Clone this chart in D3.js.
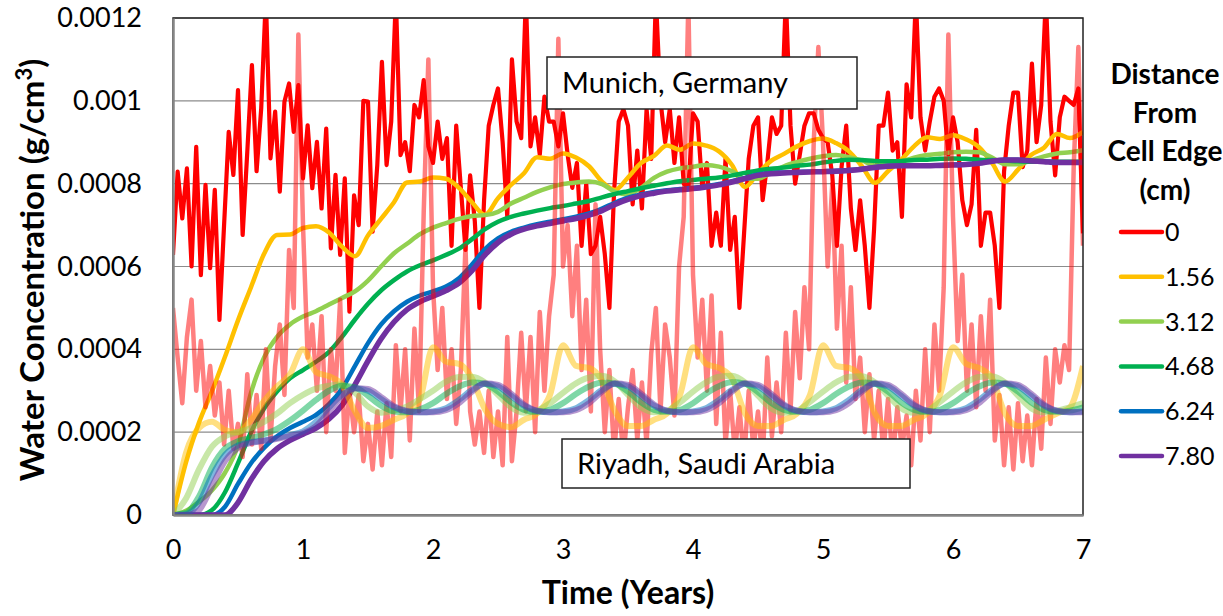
<!DOCTYPE html>
<html>
<head>
<meta charset="utf-8">
<script src="https://cdn.jsdelivr.net/npm/d3@7"></script>
<style>
  body { margin: 0; background: #fff; }
  svg { display: block; font-family: Lato, "Liberation Sans", sans-serif; }
</style>
</head>
<body>
<div id="chart"></div>
<script>
// water concentration values are in units of 1e-4 g/cm3
const UNIT = 1e-4;

// daily-weather driven cell edge (0 cm), sampled 28 times per year
const munichEdge = [
  6.28, 8.29, 7.16, 8.37, 6.0, 8.89, 5.79, 7.97, 5.96, 7.85, 4.71, 7.0, 9.25, 8.21, 10.26, 6.76, 8.77, 10.86, 8.3, 9.82, 12.5, 8.61, 9.74, 7.81, 9.98, 10.42, 9.25, 10.38,
  8.13, 9.41, 7.89, 9.01, 7.4, 9.33, 6.44, 8.21, 6.28, 8.13, 4.91, 7.72, 7.0, 10.0, 9.98, 6.84, 8.45, 10.94, 8.45, 9.5, 12.5, 8.69, 9.0, 8.3, 9.9, 9.6, 10.5, 8.9,
  8.5, 9.5, 8.6, 9.1, 6.5, 9.4, 7.9, 6.4, 8.2, 7.1, 5.0, 7.6, 9.4, 9.9, 10.3, 9.0, 7.2, 11.0, 9.5, 9.1, 12.5, 8.9, 9.6, 8.7, 10.1, 9.5, 9.5, 8.9,
  9.7, 8.7, 7.9, 8.5, 6.5, 8.0, 6.3, 6.5, 7.2, 6.3, 5.0, 7.8, 9.5, 9.8, 9.4, 7.5, 8.8, 7.4, 9.8, 8.6, 12.5, 10.0, 9.0, 9.8, 8.5, 9.6, 8.0, 7.9,
  9.7, 9.5, 7.9, 8.5, 6.5, 7.3, 6.5, 8.6, 6.4, 7.2, 5.0, 6.8, 8.6, 9.4, 9.6, 7.6, 8.5, 9.6, 9.2, 9.4, 12.5, 9.4, 8.0, 8.7, 9.4, 9.7, 9.7, 9.3,
  9.1, 9.0, 8.2, 6.5, 8.4, 9.4, 7.4, 6.4, 7.6, 6.5, 5.0, 6.9, 9.4, 9.4, 10.2, 8.8, 9.0, 7.2, 10.4, 9.6, 12.5, 9.6, 8.8, 9.5, 10.1, 10.3, 10.0, 8.7,
  9.6, 9.0, 7.6, 7.0, 7.5, 9.3, 6.5, 7.3, 7.3, 6.5, 5.0, 8.3, 9.4, 10.2, 10.2, 8.4, 8.8, 10.9, 9.0, 9.9, 12.5, 9.5, 8.2, 9.6, 10.1, 10.0, 9.9, 10.3,
  6.8
];
const riyadhEdge = [
  5.0, 3.8, 2.7, 4.3, 5.2, 3.0, 4.2, 2.6, 3.6, 2.4, 3.2, 1.7, 3.0, 1.6, 2.2, 1.4, 3.4, 1.7, 2.9, 1.6, 4.0, 1.8, 3.6, 4.6, 2.9, 6.4, 5.0, 11.6,
  7.0, 3.8, 4.6, 3.0, 4.8, 2.0, 4.0, 3.0, 5.2, 1.5, 3.0, 2.0, 2.9, 1.3, 2.2, 1.1, 2.5, 1.2, 2.7, 1.4, 4.1, 2.5, 4.0, 1.8, 4.5, 2.5, 7.3, 11.0,
  5.5, 3.5, 5.0, 2.8, 4.0, 2.2, 3.5, 6.5, 2.5, 1.7, 2.5, 1.5, 3.0, 1.4, 2.5, 1.2, 4.3, 1.3, 2.5, 4.4, 2.5, 4.3, 2.0, 4.9, 3.0, 4.8, 5.8, 11.5,
  6.0, 7.0, 4.8, 6.5, 3.5, 5.2, 2.5, 7.5, 4.0, 2.0, 3.5, 1.5, 2.8, 1.4, 2.6, 3.5, 1.8, 3.2, 1.7, 3.9, 5.0, 2.5, 4.6, 3.8, 2.4, 6.0, 7.2, 12.4,
  5.8, 3.8, 5.2, 3.0, 5.3, 2.2, 4.4, 1.7, 3.0, 1.5, 2.6, 1.3, 3.0, 1.6, 2.5, 1.3, 3.8, 1.9, 3.2, 2.0, 4.4, 2.5, 4.9, 3.3, 5.5, 4.0, 9.0, 11.3,
  9.0, 6.0, 8.0, 4.5, 6.5, 3.2, 5.5, 2.8, 3.8, 2.0, 3.4, 1.8, 3.0, 1.5, 2.8, 1.3, 2.6, 1.6, 2.4, 1.2, 3.0, 1.8, 4.0, 2.0, 4.6, 3.0, 5.5, 11.6,
  7.2, 4.2, 5.8, 3.0, 4.6, 2.6, 4.8, 3.0, 5.2, 1.8, 2.9, 1.2, 2.6, 1.1, 2.7, 1.3, 2.4, 1.2, 2.8, 1.6, 3.8, 2.2, 4.0, 3.2, 4.1, 3.5, 8.4, 11.3,
  6.5
];

// deeper positions, sampled every 0.1 year
const munich156 = [0, 1.27, 2.23, 2.99, 3.82, 4.7, 5.5, 6.3, 6.76, 6.77,
  6.93, 6.97, 6.82, 6.48, 6.25, 6.75, 7.15, 7.55, 8.03, 8.05,
  8.15, 8.12, 7.9, 7.55, 7.25, 7.65, 7.97, 8.25, 8.64, 8.6,
  8.73, 8.63, 8.42, 8.05, 7.85, 8.15, 8.5, 8.67, 8.92, 8.82,
  8.97, 8.92, 8.78, 8.45, 7.92, 8.25, 8.55, 8.72, 8.9, 9.03,
  9.09, 8.98, 8.78, 8.42, 8.02, 8.3, 8.57, 8.9, 9.12, 9.08,
  9.17, 9.07, 8.88, 8.5, 8.05, 8.34, 8.69, 8.87, 9.2, 9.1, 9.25];
const munich312 = [0, 0.1, 0.32, 0.6, 1.02, 1.68, 2.95, 3.8, 4.3, 4.6,
  4.79, 4.92, 5.08, 5.24, 5.4, 5.66, 6.0, 6.32, 6.55, 6.78,
  6.94, 7.05, 7.15, 7.22, 7.24, 7.32, 7.52, 7.66, 7.8, 7.91,
  7.99, 8.03, 8.05, 7.99, 7.8, 7.74, 7.9, 8.14, 8.29, 8.37,
  8.41, 8.45, 8.41, 8.3, 8.12, 8.12, 8.27, 8.42, 8.52, 8.6,
  8.66, 8.69, 8.64, 8.56, 8.44, 8.45, 8.53, 8.63, 8.69, 8.72,
  8.76, 8.77, 8.76, 8.63, 8.47, 8.47, 8.56, 8.66, 8.73, 8.76, 8.81];
const munich468 = [0, 0, 0, 0.12, 0.55, 1.25, 2.0, 2.57, 2.98, 3.3,
  3.5, 3.7, 3.94, 4.3, 4.72, 5.1, 5.42, 5.67, 5.88, 6.03,
  6.15, 6.28, 6.43, 6.66, 6.9, 7.08, 7.2, 7.28, 7.35, 7.41,
  7.46, 7.52, 7.58, 7.67, 7.75, 7.82, 7.89, 7.95, 8.01, 8.06,
  8.09, 8.12, 8.15, 8.2, 8.26, 8.32, 8.36, 8.39, 8.43, 8.46,
  8.51, 8.55, 8.58, 8.57, 8.55, 8.54, 8.55, 8.57, 8.58, 8.6,
  8.61, 8.6, 8.58, 8.57, 8.56, 8.54, 8.53, 8.53, 8.53, 8.53, 8.53];
const munich624 = [0, 0, 0, 0, 0.2, 0.75, 1.25, 1.62, 1.9, 2.1,
  2.25, 2.42, 2.68, 3.05, 3.6, 4.15, 4.6, 4.92, 5.15, 5.3,
  5.4, 5.52, 5.72, 6.05, 6.42, 6.68, 6.84, 6.94, 7.02, 7.08,
  7.14, 7.2, 7.28, 7.4, 7.54, 7.66, 7.74, 7.8, 7.84, 7.87,
  7.9, 7.94, 7.99, 8.06, 8.14, 8.22, 8.26, 8.27, 8.28, 8.29,
  8.3, 8.31, 8.33, 8.36, 8.4, 8.43, 8.44, 8.44, 8.44, 8.45,
  8.46, 8.47, 8.5, 8.55, 8.58, 8.58, 8.56, 8.54, 8.52, 8.52, 8.52];
const munich780 = [0, 0, 0, 0, 0, 0.3, 0.85, 1.3, 1.6, 1.8,
  1.95, 2.1, 2.32, 2.65, 3.15, 3.72, 4.25, 4.66, 4.96, 5.15,
  5.28, 5.42, 5.6, 5.9, 6.28, 6.58, 6.78, 6.9, 6.98, 7.04,
  7.1, 7.16, 7.24, 7.35, 7.5, 7.62, 7.71, 7.77, 7.82, 7.85,
  7.88, 7.92, 7.97, 8.04, 8.12, 8.2, 8.24, 8.26, 8.27, 8.28,
  8.29, 8.3, 8.32, 8.35, 8.39, 8.42, 8.43, 8.43, 8.43, 8.44,
  8.45, 8.46, 8.49, 8.54, 8.57, 8.57, 8.55, 8.53, 8.51, 8.51, 8.51];

const riyadh156 = [0, 1.5, 2.1, 2.25, 2.05, 2.0, 2.3, 2.75, 3.1, 3.4,
  4.0, 3.45, 3.35, 3.15, 2.5, 2.1, 2.15, 2.3, 2.45, 2.8,
  4.05, 3.7, 3.65, 3.3, 2.55, 2.2, 2.12, 2.3, 2.45, 2.9,
  4.1, 3.6, 3.55, 3.25, 2.5, 2.15, 2.15, 2.3, 2.45, 2.9,
  4.05, 3.65, 3.55, 3.3, 2.45, 2.15, 2.15, 2.3, 2.45, 2.9,
  4.1, 3.6, 3.55, 3.3, 2.45, 2.15, 2.15, 2.3, 2.45, 2.9,
  4.05, 3.65, 3.55, 3.3, 2.45, 2.15, 2.15, 2.3, 2.45, 2.6, 3.6];
const riyadh312 = [0, 0.4, 1.1, 1.65, 1.9, 2.0, 2.1, 2.25, 2.45, 2.7,
  2.9, 3.05, 3.12, 3.15, 2.95, 2.62, 2.47, 2.52, 2.62, 2.8,
  3.0, 3.22, 3.33, 3.34, 3.2, 2.9, 2.6, 2.47, 2.52, 2.7,
  2.95, 3.18, 3.32, 3.36, 3.22, 2.9, 2.6, 2.48, 2.52, 2.72,
  2.98, 3.2, 3.34, 3.36, 3.2, 2.88, 2.58, 2.47, 2.52, 2.73,
  2.98, 3.2, 3.34, 3.35, 3.2, 2.88, 2.58, 2.47, 2.52, 2.73,
  2.98, 3.2, 3.33, 3.35, 3.2, 2.88, 2.58, 2.48, 2.52, 2.6, 2.7];
const riyadh468 = [0, 0.05, 0.45, 1.15, 1.6, 1.78, 1.86, 1.95, 2.08, 2.28,
  2.52, 2.78, 3.0, 3.12, 3.08, 2.88, 2.64, 2.5, 2.48, 2.55,
  2.7, 2.92, 3.1, 3.2, 3.17, 2.98, 2.72, 2.54, 2.49, 2.54,
  2.7, 2.92, 3.1, 3.2, 3.17, 2.98, 2.72, 2.54, 2.49, 2.54,
  2.7, 2.93, 3.11, 3.21, 3.17, 2.97, 2.71, 2.54, 2.49, 2.54,
  2.7, 2.92, 3.1, 3.2, 3.17, 2.98, 2.72, 2.54, 2.49, 2.54,
  2.7, 2.92, 3.1, 3.2, 3.17, 2.98, 2.72, 2.54, 2.49, 2.52, 2.6];
const riyadh624 = [0, 0.02, 0.3, 0.95, 1.45, 1.68, 1.76, 1.8, 1.86, 1.93,
  2.02, 2.25, 2.6, 2.9, 3.06, 3.0, 2.8, 2.6, 2.5, 2.48,
  2.5, 2.58, 2.78, 3.02, 3.17, 3.1, 2.88, 2.64, 2.51, 2.48,
  2.5, 2.58, 2.78, 3.02, 3.17, 3.1, 2.88, 2.64, 2.51, 2.48,
  2.5, 2.58, 2.78, 3.02, 3.17, 3.1, 2.88, 2.64, 2.51, 2.48,
  2.5, 2.58, 2.78, 3.02, 3.17, 3.1, 2.88, 2.64, 2.51, 2.48,
  2.5, 2.58, 2.78, 3.02, 3.17, 3.1, 2.88, 2.64, 2.51, 2.48, 2.5];
const riyadh780 = [0, 0, 0.12, 0.7, 1.3, 1.62, 1.74, 1.79, 1.84, 1.91,
  1.98, 2.15, 2.5, 2.86, 3.06, 3.04, 2.85, 2.63, 2.51, 2.48,
  2.48, 2.53, 2.7, 2.98, 3.18, 3.14, 2.93, 2.67, 2.52, 2.48,
  2.48, 2.53, 2.7, 2.98, 3.18, 3.14, 2.93, 2.67, 2.52, 2.48,
  2.48, 2.53, 2.7, 2.98, 3.18, 3.14, 2.93, 2.67, 2.52, 2.48,
  2.48, 2.53, 2.7, 2.98, 3.18, 3.14, 2.93, 2.67, 2.52, 2.48,
  2.48, 2.53, 2.7, 2.98, 3.18, 3.14, 2.93, 2.67, 2.52, 2.48, 2.48];

const distances = ['0', '1.56', '3.12', '4.68', '6.24', '7.80'];
const colors = ['#FF0000', '#FFC000', '#92D050', '#00B050', '#0070C0', '#7030A0'];
const yTicks = [0, 0.0002, 0.0004, 0.0006, 0.0008, 0.001, 0.0012];
const xTicks = [0, 1, 2, 3, 4, 5, 6, 7];

const width = 1223;
const height = 616;
const margin = {top: 18, right: 140, bottom: 101, left: 173};

const svg = d3.select('#chart').append('svg')
  .attr('width', width)
  .attr('height', height);

const x = d3.scaleLinear().domain([0, 7]).range([margin.left, width - margin.right]);
const y = d3.scaleLinear().domain([0, 0.0012]).range([height - margin.bottom, margin.top]);

const edgeTimes = d3.range(munichEdge.length).map(i => i / 28);
const deepTimes = d3.range(munich156.length).map(i => i / 10);

const toPoints = (times, vals) => vals.map((v, i) => [times[i], v * UNIT]);

// gridlines
svg.append('g')
  .selectAll('line')
  .data(yTicks.slice(1))
  .join('line')
  .attr('x1', x(0)).attr('x2', x(7))
  .attr('y1', d => y(d)).attr('y2', d => y(d))
  .attr('stroke', '#8c8c8c')
  .attr('stroke-width', 1.2);

svg.append('clipPath').attr('id', 'plotClip')
  .append('rect')
  .attr('x', x(0)).attr('y', y(0.0012))
  .attr('width', x(7) - x(0)).attr('height', y(0) - y(0.0012));

const plot = svg.append('g').attr('clip-path', 'url(#plotClip)');

const lineEdge = d3.line().x(d => x(d[0])).y(d => y(d[1]));
const lineSmooth = d3.line().x(d => x(d[0])).y(d => y(d[1])).curve(d3.curveMonotoneX);

const munichDeep = [munich156, munich312, munich468, munich624, munich780];
const riyadhDeep = [riyadh156, riyadh312, riyadh468, riyadh624, riyadh780];

// Munich: solid
plot.append('path')
  .datum(toPoints(edgeTimes, munichEdge))
  .attr('d', lineEdge)
  .attr('fill', 'none')
  .attr('stroke', colors[0])
  .attr('stroke-width', 4.2)
  .attr('stroke-linejoin', 'round');

munichDeep.forEach((vals, k) => {
  plot.append('path')
    .datum(toPoints(deepTimes, vals))
    .attr('d', lineSmooth)
    .attr('fill', 'none')
    .attr('stroke', colors[k + 1])
    .attr('stroke-width', k === 4 ? 5.5 : 4.5);
});

// Riyadh: same colours, half transparent
plot.append('path')
  .datum(toPoints(edgeTimes, riyadhEdge))
  .attr('d', lineEdge)
  .attr('fill', 'none')
  .attr('stroke', colors[0])
  .attr('stroke-opacity', 0.5)
  .attr('stroke-width', 4.5)
  .attr('stroke-linejoin', 'round');

riyadhDeep.forEach((vals, k) => {
  plot.append('path')
    .datum(toPoints(deepTimes, vals))
    .attr('d', lineSmooth)
    .attr('fill', 'none')
    .attr('stroke', colors[k + 1])
    .attr('stroke-opacity', 0.5)
    .attr('stroke-width', 6);
});

// plot frame
svg.append('rect')
  .attr('x', x(0)).attr('y', y(0.0012))
  .attr('width', x(7) - x(0)).attr('height', y(0) - y(0.0012))
  .attr('fill', 'none')
  .attr('stroke', '#222')
  .attr('stroke-width', 1.5);

// axes
const yAxis = svg.append('g')
  .attr('transform', `translate(${x(0)},0)`)
  .call(d3.axisLeft(y).tickValues(yTicks).tickSize(0).tickPadding(31).tickFormat(d3.format('.4~f')));
const xAxis = svg.append('g')
  .attr('transform', `translate(0,${y(0)})`)
  .call(d3.axisBottom(x).tickValues(xTicks).tickSize(0).tickPadding(25).tickFormat(d3.format('d')));

[yAxis, xAxis].forEach(g => {
  g.select('.domain').attr('stroke', '#868686').attr('stroke-width', 2.5);
  g.selectAll('text').attr('font-size', 27).attr('fill', '#000').attr('font-family', 'Lato, sans-serif');
});

// city labels
const notes = [
  {text: 'Munich, Germany', x: 547, y: 57, w: 310, h: 52},
  {text: 'Riyadh, Saudi Arabia', x: 562, y: 439, w: 348, h: 49}
];
const noteG = svg.append('g').selectAll('g').data(notes).join('g');
noteG.append('rect')
  .attr('x', d => d.x).attr('y', d => d.y)
  .attr('width', d => d.w).attr('height', d => d.h)
  .attr('fill', '#fff')
  .attr('stroke', '#222')
  .attr('stroke-width', 1.5);
noteG.append('text')
  .attr('x', d => d.x + 15).attr('y', d => d.y + d.h / 2 + 10)
  .attr('font-size', 29)
  .text(d => d.text);

// axis titles
svg.append('text')
  .attr('x', x(3.5)).attr('y', 604)
  .attr('text-anchor', 'middle')
  .attr('font-size', 32).attr('font-weight', 'bold')
  .text('Time (Years)');

const yTitle = svg.append('text')
  .attr('transform', 'translate(44,270) rotate(-90)')
  .attr('text-anchor', 'middle')
  .attr('font-size', 33).attr('font-weight', 'bold');
yTitle.append('tspan').text('Water Concentration (g/cm');
yTitle.append('tspan').attr('dy', -12).attr('font-size', 22).text('3');
yTitle.append('tspan').attr('dy', 12).text(')');

// legend
const legTitle = svg.append('text')
  .attr('x', 1165).attr('y', 84)
  .attr('text-anchor', 'middle')
  .attr('font-size', 28).attr('font-weight', 'bold');
['Distance', 'From', 'Cell Edge', '(cm)'].forEach((t, i) => {
  legTitle.append('tspan').attr('x', 1165).attr('dy', i === 0 ? 0 : 38.5).text(t);
});

const leg = svg.append('g').selectAll('g')
  .data(distances)
  .join('g')
  .attr('transform', (d, i) => `translate(1121,${232 + i * 44.8})`);
leg.append('line')
  .attr('x1', 0).attr('x2', 41)
  .attr('stroke', (d, i) => colors[i])
  .attr('stroke-width', 4.5)
  .attr('stroke-linecap', 'round');
leg.append('text')
  .attr('x', 44).attr('y', 9)
  .attr('font-size', 25)
  .text(d => d);
</script>
</body>
</html>
